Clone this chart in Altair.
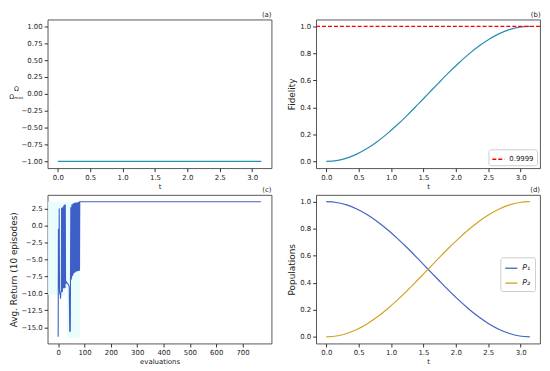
import altair as alt
import pandas as pd

# ---------------- data ----------------
omega_t = [0.0, 3.142]
omega_ratio = [-1.0, -1.0]

t_vals = [0.0, 0.157, 0.314, 0.471, 0.628, 0.785, 0.942, 1.100, 1.257, 1.414, 1.571,
          1.728, 1.885, 2.042, 2.199, 2.356, 2.513, 2.670, 2.827, 2.985, 3.142]
fidelity = [0.000, 0.006, 0.024, 0.054, 0.095, 0.146, 0.206, 0.273, 0.345, 0.422, 0.500,
            0.578, 0.655, 0.727, 0.794, 0.854, 0.905, 0.946, 0.976, 0.994, 1.000]
threshold = 0.9999
p1_vals = [1.000, 0.994, 0.976, 0.946, 0.905, 0.854, 0.794, 0.727, 0.655, 0.578, 0.500,
           0.422, 0.345, 0.273, 0.206, 0.146, 0.095, 0.054, 0.024, 0.006, 0.000]
p2_vals = [0.000, 0.006, 0.024, 0.054, 0.095, 0.146, 0.206, 0.273, 0.345, 0.422, 0.500,
           0.578, 0.655, 0.727, 0.794, 0.854, 0.905, 0.946, 0.976, 0.994, 1.000]

eval_x = [0, 1, 2, 3, 4, 5, 7, 8, 9, 10, 12, 13, 14, 16, 17, 18, 20, 21, 22, 23, 24, 25, 26, 27,
          28, 31, 34, 37, 40, 42, 44, 45, 46, 48, 49, 51, 52, 53, 55, 56, 57, 58, 59, 60, 61, 62,
          63, 64, 65, 66, 67, 68, 69, 70, 71, 72, 73, 74, 75, 76, 77, 78, 79, 80, 81, 82, 86, 770]
eval_y = [-16.4, -0.6, -0.5, -9.3, 2.5, -9.6, -10.2, -9.9, -10.8, -10.0, -9.6, 2.6, -9.4, -9.8,
          2.7, -9.2, -9.0, 2.9, -9.3, 3.0, -8.9, 3.1, -9.2, 3.1, -8.6, -8.3, -8.5, -8.6, -8.8,
          -9.1, -15.7, -15.2, -15.6, 2.7, -8.0, -7.6, 3.1, -7.4, -7.3, 3.2, -7.2, 3.2, -7.0, 3.3,
          -7.0, 3.3, -6.9, 3.3, -6.9, 3.4, -6.8, 3.4, -6.8, 3.4, -6.8, 3.4, -6.7, 3.4, -6.7, 3.4,
          -6.7, 3.5, -6.7, 3.5, -6.6, 3.5, 3.5, 3.5]
band_x = [-38, 28, 28, 33, 33, 82, 84]
band_lo = [-10.2, -10.2, -9.2, -9.2, -16.6, -16.6, 3.5]
band_hi = [3.5, 3.5, 3.5, 3.5, 3.5, 3.5, 3.5]

# ---------------- frames ----------------
df_a = pd.DataFrame({"t": omega_t, "r": omega_ratio})
df_b = pd.DataFrame({"t": t_vals, "F": fidelity})
df_thr = pd.DataFrame({"F": [threshold], "label": ["0.9999"]})
df_c = pd.DataFrame({"x": eval_x, "y": eval_y})
df_band = pd.DataFrame({"x": band_x, "y": band_lo, "hi": band_hi})
df_d = pd.DataFrame({
    "t": t_vals + t_vals,
    "p": p1_vals + p2_vals,
    "s": ["P\u2081"] * len(t_vals) + ["P\u2082"] * len(t_vals),
})

W, H = 226, 150
t_scale = alt.Scale(domain=[-0.157, 3.299], nice=False, zero=False)
t_axis = alt.Axis(values=[0, 0.5, 1, 1.5, 2, 2.5, 3], format=".1f", title="t",
                  labelOverlap=False)
unit_scale = alt.Scale(domain=[-0.05, 1.05], nice=False, zero=False)
unit_vals = [0, 0.2, 0.4, 0.6, 0.8, 1.0]


def ptitle(txt):
    return alt.TitleParams(txt, anchor="end", fontSize=7, fontWeight="normal",
                           offset=2, font="DejaVu Sans", color="#222")


# (a)
chart_a = alt.Chart(df_a).mark_line(color="#2596a6", strokeWidth=1.4).encode(
    x=alt.X("t:Q", scale=t_scale, axis=t_axis),
    y=alt.Y("r:Q", scale=alt.Scale(domain=[-1.1, 1.1], nice=False, zero=False),
            axis=alt.Axis(values=[-1, -0.75, -0.5, -0.25, 0, 0.25, 0.5, 0.75, 1], format=".2f",
                          labelOverlap=False,
                          title=["\u03a9", "\u03a9\u2098\u2090\u2093"],
                          titleAngle=0, titleFontSize=6.5, titleLineHeight=8,
                          titleAlign="center", titleBaseline="middle", titleX=-32, titleY=70)),
).properties(width=W, height=H, title=ptitle("(a)"))

# (b)
fid_y = alt.Y("F:Q", scale=unit_scale,
              axis=alt.Axis(values=unit_vals, format=".1f", title="Fidelity", titleFontSize=9,
                            titlePadding=3, labelOverlap=False))
line_b = alt.Chart(df_b).mark_line(color="#2a8cb2", strokeWidth=1.2, interpolate="monotone").encode(
    x=alt.X("t:Q", scale=t_scale, axis=t_axis),
    y=fid_y,
)
rule_b = alt.Chart(df_thr).mark_rule(strokeDash=[4, 2], strokeWidth=1.3).encode(
    y=fid_y,
    color=alt.Color("label:N", scale=alt.Scale(domain=["0.9999"], range=["#ff0000"]),
                    legend=alt.Legend(title=None, orient="bottom-right", symbolType="stroke",
                                      symbolDash=[4, 2], symbolStrokeWidth=1.3, symbolSize=150,
                                      labelFontSize=7, fillColor="white", strokeColor="#cccccc",
                                      padding=3, cornerRadius=2, offset=3)),
)
chart_b = alt.layer(line_b, rule_b).properties(width=W, height=H, title=ptitle("(b)"))

# (c)
c_x = alt.X("x:Q", scale=alt.Scale(domain=[-40, 810], nice=False, zero=False),
            axis=alt.Axis(values=[0, 100, 200, 300, 400, 500, 600, 700], title="evaluations",
                          titleFontSize=7, labelOverlap=False))
c_y = alt.Y("y:Q", scale=alt.Scale(domain=[-17.4, 4.5], nice=False, zero=False),
            axis=alt.Axis(values=[-15, -12.5, -10, -7.5, -5, -2.5, 0, 2.5], format=".1f",
                          title="Avg. Return (10 episodes)", titleFontSize=9, titlePadding=2,
                          labelOverlap=False))
band_c = alt.Chart(df_band).mark_area(color="#eafdfd", opacity=1).encode(
    x=c_x, y=c_y, y2="hi:Q",
)
line_c = alt.Chart(df_c).mark_line(color="#3f5fc8", strokeWidth=1.1).encode(
    x=c_x, y=c_y,
)
chart_c = alt.layer(band_c, line_c).properties(width=W, height=H, title=ptitle("(c)"))

# (d)
chart_d = alt.Chart(df_d).mark_line(strokeWidth=1.2, interpolate="monotone").encode(
    x=alt.X("t:Q", scale=t_scale, axis=t_axis),
    y=alt.Y("p:Q", scale=unit_scale,
            axis=alt.Axis(values=unit_vals, format=".1f", title="Populations", titleFontSize=9,
                          titlePadding=3, labelOverlap=False)),
    color=alt.Color("s:N", scale=alt.Scale(domain=["P\u2081", "P\u2082"],
                                           range=["#4063c4", "#d4a21e"]),
                    legend=alt.Legend(title=None, orient="none", legendX=186, legendY=63,
                                      symbolType="stroke", symbolStrokeWidth=1.3, symbolSize=150,
                                      labelFontSize=8, labelFontStyle="italic",
                                      fillColor="white", strokeColor="#cccccc", padding=4,
                                      cornerRadius=2, rowPadding=4)),
).properties(width=W, height=H, title=ptitle("(d)"))

chart = alt.concat(chart_a, chart_b, chart_c, chart_d, columns=2,
                   spacing={"row": 27, "column": 45}, bounds="flush").resolve_scale(
    color="independent", x="independent", y="independent"
).properties(padding=0).configure_axis(
    labelFontSize=7, titleFontSize=7, titleFontWeight="normal", labelFont="DejaVu Sans",
    titleFont="DejaVu Sans", labelColor="#222", titleColor="#222", tickColor="#333",
    tickSize=3.5, domain=False, grid=False, labelPadding=2, titlePadding=2,
    labelOverlap=False, labelFlush=False,
).configure_view(stroke="#444", strokeWidth=0.9).configure_legend(
    labelFont="DejaVu Sans", labelColor="#222"
)

chart.save("out.html", embed_options={"renderer": "svg", "actions": False})
